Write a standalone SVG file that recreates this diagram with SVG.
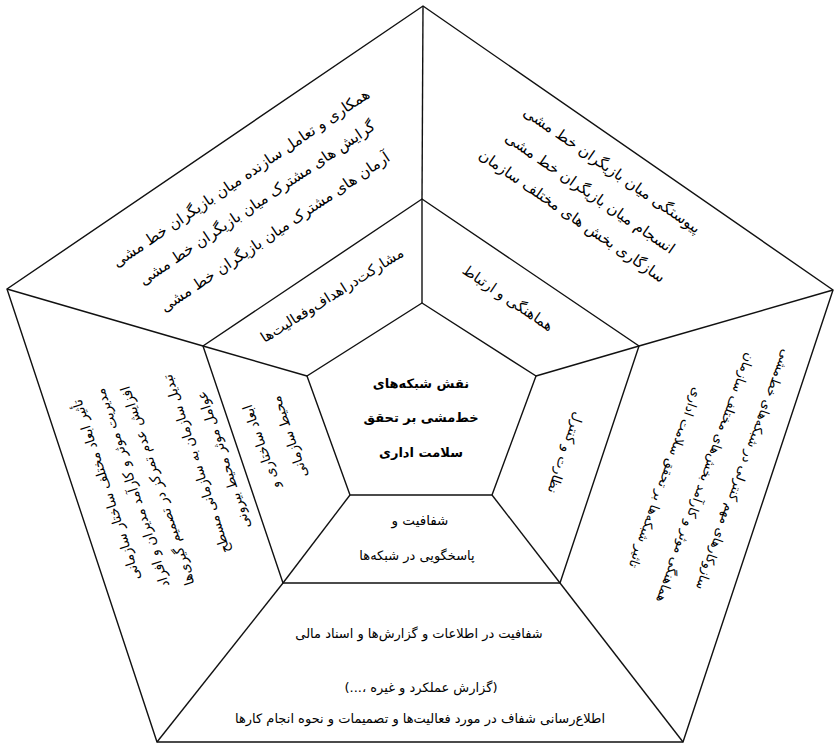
<svg xmlns="http://www.w3.org/2000/svg" width="835" height="746" viewBox="0 0 835 746">
<style>
.ln{fill:none;stroke:#111;stroke-width:1.4;stroke-linejoin:miter}
text{font-family:"DejaVu Sans","Noto Sans",sans-serif;font-size:13px;fill:#000;text-anchor:middle}
.c{font-weight:bold;font-size:13px}
.big{font-size:15px}
.mid{font-size:14.5px}
.sm{font-size:13.5px}
</style>
<rect width="835" height="746" fill="#fff"/>
<g id="connectors">
<polygon class="ln" points="423,6 833,290 683,742 157,742 7,289"/>
<polygon class="ln" points="422,199 639,346 560,583 283,583 203,346"/>
<line class="ln" x1="423" y1="6" x2="422" y2="199"/>
<line class="ln" x1="7" y1="289" x2="203" y2="346"/>
<line class="ln" x1="833" y1="290" x2="639" y2="346"/>
<line class="ln" x1="157" y1="742" x2="283" y2="583"/>
<line class="ln" x1="683" y1="742" x2="560" y2="583"/>
<line class="ln" x1="422" y1="199" x2="422" y2="303"/>
<line class="ln" x1="203" y1="346" x2="307" y2="376"/>
<line class="ln" x1="639" y1="346" x2="536" y2="376"/>
<line class="ln" x1="283" y1="583" x2="350" y2="495"/>
<line class="ln" x1="560" y1="583" x2="492" y2="495"/>
</g>
<g id="center">
<polygon class="ln" points="422,303 536,376 492,495 350,495 307,376"/>
<text class="c" x="421" y="388">نقش شبکه‌های</text>
<text class="c" x="421" y="422">خط‌مشی بر تحقق</text>
<text class="c" x="421" y="457">سلامت اداری</text>
</g>
<g id="mid-top-left">
<text class="mid" transform="translate(332,295) rotate(-32)" x="0" y="5">مشارکت‌دراهداف‌وفعالیت‌ها</text>
</g>
<g id="mid-top-right">
<text class="mid" transform="translate(508,298) rotate(34)" x="0" y="5">هماهنگی و ارتباط</text>
</g>
<g id="mid-right">
<text class="sm" transform="translate(566,453) rotate(109)" x="0" y="5">نظارت و کنترل</text>
</g>
<g id="mid-left">
<text class="sm" transform="translate(261,447) rotate(-109)" x="0" y="5">ابعاد ساختاری و</text>
<text class="sm" transform="translate(289,437) rotate(-109)" x="0" y="5">محیط سازمانی</text>
</g>
<g id="mid-bottom">
<text x="420" y="525" class="sm">شفافیت و</text>
<text x="417" y="560">پاسخگویی در شبکه‌ها</text>
</g>
<g id="outer-top-left">
<text class="big" transform="translate(241,178) rotate(-34)" x="0" y="5">همکاری و تعامل سازنده میان بازیگران خط مشی</text>
<text class="big" transform="translate(257,203) rotate(-34)" x="0" y="5">گرایش های مشترک میان بازیگران خط مشی</text>
<text class="big" transform="translate(275,232) rotate(-34)" x="0" y="5">آرمان های مشترک میان بازیگران خط مشی</text>
</g>
<g id="outer-top-right">
<text class="big" transform="translate(612,170) rotate(34.5)" x="0" y="5">پیوستگی میان بازیگران خط مشی</text>
<text class="big" transform="translate(590,193) rotate(34.5)" x="0" y="5">انسجام میان بازیگران خط مشی</text>
<text class="big" transform="translate(572,216) rotate(34.5)" x="0" y="5">سازگاری بخش های مختلف سازمان</text>
</g>
<g id="outer-right">
<text transform="translate(744,470) rotate(110)" x="0" y="5">سازوکارهای مهم کنترلی در شبکه‌های خط‌مشی</text>
<text transform="translate(706,478) rotate(110)" x="0" y="5">هماهنگی موثر و کارآمد بخش‌های مختلف سازمان</text>
<text transform="translate(666,478) rotate(110)" x="0" y="5">تاثیر شبکه‌ها بر تحقق سلامت اداری</text>
</g>
<g id="outer-left">
<text class="sm" transform="translate(106,490) rotate(-108.3)" x="0" y="5">تأثیر ابعاد مختلف ساختار سازمانی</text>
<text class="sm" transform="translate(132,488) rotate(-108.3)" x="0" y="5">مدیریت موثر و کارآمد مدیران و افراد</text>
<text class="sm" transform="translate(157,486) rotate(-108.3)" x="0" y="5">افزایش عدم تمرکز در تصمیم گیری‌ها</text>
<text class="sm" transform="translate(196,464) rotate(-108.3)" x="0" y="5">تبدیل سازمان به سازمانی مسطح</text>
<text class="sm" transform="translate(223,460) rotate(-108.3)" x="0" y="5">عوامل موثر محیط بیرونی</text>
</g>
<g id="outer-bottom">
<text x="419" y="638">شفافیت در اطلاعات و گزارش‌ها و اسناد مالی</text>
<text x="421" y="692">(...، گزارش عملکرد و غیره)</text>
<text x="420" y="723">اطلاع‌رسانی شفاف در مورد فعالیت‌ها و تصمیمات و نحوه انجام کارها</text>
</g>
</svg>
